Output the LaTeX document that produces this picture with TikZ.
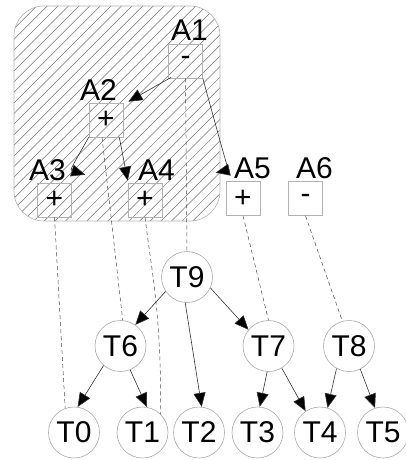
\documentclass[tikz,border=0pt]{standalone}
\usepackage{fontspec}
\setmainfont{Liberation Sans}
\usetikzlibrary{arrows.meta}
\begin{document}
\begin{tikzpicture}[x=1pt,y=-1pt,
  tnode/.style={circle,draw=black!33,line width=0.6pt,minimum size=51pt,inner sep=0pt,font=\fontsize{30}{30}\selectfont},
  abox/.style={rectangle,draw=black!30,line width=0.6pt,minimum size=34pt,inner sep=0pt,font=\fontsize{30}{30}\selectfont},
  alabel/.style={anchor=base west,inner sep=0pt,font=\fontsize{30}{30}\selectfont},
  edge/.style={draw=black!80,line width=0.6pt,-{Triangle[length=14pt,width=12pt,fill=black]}},
  corr/.style={draw=black!70,line width=0.5pt,dash pattern=on 4pt off 3pt},
  region/.style={draw=black!30,line width=0.6pt,rounded corners=30pt},
  hatch/.style={draw=black!55,line width=0.5pt}
]
\useasboundingbox (0,0) rectangle (406,460);
\begin{scope}
  \clip[rounded corners=30pt] (14,6) rectangle (220,221);
  \foreach \k in {-4,...,37} \draw[hatch] ({47.3+10.6*\k},6) -- ++(-215,215);
\end{scope}
\path[region] (14,6) rectangle (220,221);
% A boxes
\node[abox] (A1) at (185.5,61) {-};
\node[abox] (A2) at (106,120) {+};
\node[abox] (A3) at (54.5,200) {+};
\node[abox] (A4) at (145,200) {+};
\node[abox] (A5) at (243,198.5) {+};
\node[abox] (A6) at (305.5,198.5) {-};
% labels
\node[alabel] (L1) at (171,41) {A1};
\node[alabel] (L2) at (80,100) {A2};
\node[alabel] (L3) at (29,180) {A3};
\node[alabel] (L4) at (138,180) {A4};
\node[alabel] (L5) at (234,178) {A5};
\node[alabel] (L6) at (296,178) {A6};
% T nodes
\node[tnode] (T9) at (187,277) {T9};
\node[tnode] (T6) at (120.5,346) {T6};
\node[tnode] (T7) at (268.5,346) {T7};
\node[tnode] (T8) at (349,346) {T8};
\node[tnode] (T0) at (74,432.5) {T0};
\node[tnode] (T1) at (142.5,432.5) {T1};
\node[tnode] (T2) at (199,432.5) {T2};
\node[tnode] (T3) at (257.5,432.5) {T3};
\node[tnode] (T4) at (320,432.5) {T4};
\node[tnode] (T5) at (383,432.5) {T5};
% A arrows
\draw[edge] ([xshift=3pt,yshift=1pt]A1.south west) -- ([xshift=5pt,yshift=1pt]A2.north east);
\draw[edge] (A1.south east) .. controls (228,170) .. ([xshift=-10pt,yshift=8.5pt]A5.north west);
\draw[edge] (A2.south west) .. controls (70,170) .. ([xshift=13.5pt,yshift=8pt]A3.north east);
\draw[edge] ([xshift=-4pt]A2.south east) -- ([yshift=2pt]A4.north west);
% dashed correspondences
\draw[corr] (A1.south) -- (T9.north);
\draw[corr] ([xshift=-4pt]A2.south) -- (T6.85);
\draw[corr] (A3.south) -- (T0.110);
\draw[corr] (A4.south) .. controls (152,275) and (161,310) .. (T1.45);
\draw[corr] (A5.south) -- (T7.north);
\draw[corr] (A6.south) -- (T8.105);
% T arrows
\draw[edge] (T9.214) -- (T6.55);
\draw[edge] (T9.266) -- (T2.84);
\draw[edge] (T9.-25) -- (T7.141);
\draw[edge] (T6.-131) -- (T0.82);
\draw[edge] (T6.-68) -- (T1.80);
\draw[edge] (T7.-93) -- (T3.85);
\draw[edge] (T7.-59) -- (T4.124);
\draw[edge] (T8.-119) -- (T4.73);
\draw[edge] (T8.-64) -- (T5.108);
\end{tikzpicture}
\end{document}
